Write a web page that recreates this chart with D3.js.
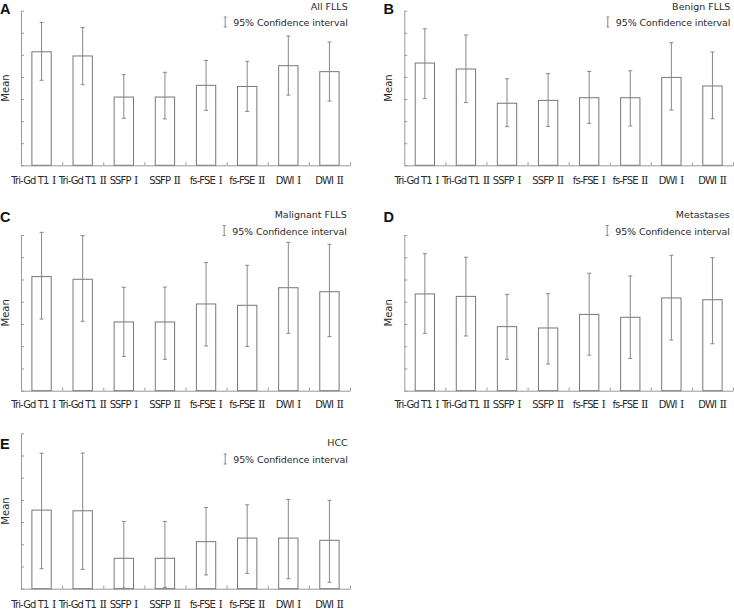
<!DOCTYPE html>
<html>
<head>
<meta charset="utf-8">
<script src="https://cdn.jsdelivr.net/npm/d3@7/dist/d3.min.js"></script>
<style>
  html, body { margin: 0; padding: 0; background: #fff; }
  svg { display: block; }
</style>
</head>
<body>
<svg id="chart" width="734" height="610"></svg>
<script>
// ---------- DATA ----------
const categories = ["Tri-Gd T1 Ⅰ", "Tri-Gd T1 Ⅱ", "SSFP Ⅰ", "SSFP Ⅱ", "fs-FSE Ⅰ", "fs-FSE Ⅱ", "DWI Ⅰ", "DWI Ⅱ"];
const yTicks = [0, 1, 2, 3, 4, 5, 6, 7];
const legendLabel = "95% Confidence interval";
const axisTitle = "Mean";

const titleA = "All FLLS";
const meanA = [5.14, 4.95, 3.09, 3.09, 3.62, 3.57, 4.51, 4.24];
const hiA   = [6.47, 6.24, 4.10, 4.21, 4.75, 4.71, 5.85, 5.58];
const loA   = [3.85, 3.65, 2.13, 2.10, 2.49, 2.44, 3.18, 2.91];

const titleB = "Benign FLLS";
const meanB = [4.63, 4.36, 2.81, 2.94, 3.06, 3.06, 3.98, 3.59];
const hiB   = [6.18, 5.90, 3.92, 4.15, 4.25, 4.28, 5.55, 5.13];
const loB   = [3.02, 2.84, 1.75, 1.76, 1.90, 1.78, 2.50, 2.11];

const titleC = "Malignant FLLS";
const meanC = [5.13, 5.01, 3.09, 3.09, 3.90, 3.84, 4.63, 4.45];
const hiC   = [7.12, 6.97, 4.65, 4.66, 5.76, 5.64, 6.67, 6.58];
const loC   = [3.22, 3.12, 1.54, 1.41, 2.01, 1.99, 2.58, 2.43];

const titleD = "Metastases";
const meanD = [4.35, 4.24, 2.88, 2.82, 3.43, 3.30, 4.17, 4.09];
const hiD   = [6.16, 6.00, 4.33, 4.36, 5.28, 5.16, 6.09, 5.98];
const loD   = [2.58, 2.46, 1.41, 1.20, 1.60, 1.45, 2.28, 2.11];

const titleE = "HCC";
const meanE = [3.54, 3.51, 1.37, 1.37, 2.12, 2.28, 2.28, 2.18];
const hiE   = [6.10, 6.11, 3.03, 3.03, 3.66, 3.78, 4.02, 3.98];
const loE   = [0.90, 0.87, 0.03, 0.06, 0.62, 0.69, 0.45, 0.29];

// ---------- LAYOUT ----------
const FONT = "'DejaVu Sans', Verdana, sans-serif";
const SERIF = "'DejaVu Serif', 'Liberation Serif', serif";
const TEXT = "#2a2a2a";
const svg = d3.select("#chart");

const panels = [
  {letter: "A", title: titleA, mean: meanA, hi: hiA, lo: loA,
   x0: 21, x1: 350, top: 10.7, base: 165.3, labelY: 183.5, letterX: 0, letterY: 13.5,
   titleY: 9.5, ciY: 26, right: 347.7, meanX: 5},
  {letter: "B", title: titleB, mean: meanB, hi: hiB, lo: loB,
   x0: 404.3, x1: 733, top: 10.7, base: 165.3, labelY: 183.5, letterX: 383.5, letterY: 13.5,
   titleY: 9.5, ciY: 26, right: 730.3, meanX: 388.7},
  {letter: "C", title: titleC, mean: meanC, hi: hiC, lo: loC,
   x0: 21, x1: 350, top: 235, base: 390.7, labelY: 407.5, letterX: 0, letterY: 222,
   titleY: 218, ciY: 234.5, right: 346.7, meanX: 5},
  {letter: "D", title: titleD, mean: meanD, hi: hiD, lo: loD,
   x0: 404.3, x1: 733, top: 235, base: 390.7, labelY: 407.5, letterX: 383.5, letterY: 222,
   titleY: 218, ciY: 234.5, right: 729.7, meanX: 388.7},
  {letter: "E", title: titleE, mean: meanE, hi: hiE, lo: loE,
   x0: 21, x1: 350, top: 433.3, base: 588.7, labelY: 607.5, letterX: 0, letterY: 448.5,
   titleY: 446, ciY: 463, right: 347.7, meanX: 5}
];

function drawPanel(p) {
  const g = svg.append("g");
  const n = categories.length;
  const pad = 0.53;
  const x = d3.scaleBand().domain(categories).range([p.x0, p.x1])
    .paddingInner(pad).paddingOuter(pad / 2);
  const xb = d3.scaleLinear().domain([0, n]).range([p.x0, p.x1]);
  const y = d3.scaleLinear().domain([0, 7]).range([p.base, p.top]);

  // y axis (ticks pointing inward)
  const ya = g.append("g").attr("transform", `translate(${p.x0},0)`)
    .call(d3.axisLeft(y).tickValues(yTicks).tickSizeInner(-3).tickSizeOuter(0).tickFormat(""));
  ya.select(".domain").attr("stroke", "#999");
  ya.selectAll(".tick line").attr("stroke", "#999");

  // x axis (boundary ticks pointing up)
  const xa = g.append("g").attr("transform", `translate(0,${p.base})`)
    .call(d3.axisBottom(xb).tickValues(d3.range(1, n + 1)).tickSizeInner(-3).tickSizeOuter(0).tickFormat(""));
  xa.select(".domain").attr("stroke", "#999");
  xa.selectAll(".tick line").attr("stroke", "#999");

  // bars
  g.selectAll("rect.bar").data(categories).join("rect")
    .attr("class", "bar")
    .attr("x", d => x(d))
    .attr("y", (d, i) => y(p.mean[i]))
    .attr("width", x.bandwidth())
    .attr("height", (d, i) => y(0) - y(p.mean[i]))
    .attr("fill", "#fff")
    .attr("stroke", "#777")
    .attr("stroke-width", 1);

  // error bars
  const cap = 2;
  const eb = g.selectAll("g.err").data(categories).join("g").attr("class", "err")
    .attr("stroke", "#888").attr("stroke-width", 1);
  eb.append("line")
    .attr("x1", d => x(d) + x.bandwidth() / 2).attr("x2", d => x(d) + x.bandwidth() / 2)
    .attr("y1", (d, i) => y(p.lo[i])).attr("y2", (d, i) => y(p.hi[i]));
  eb.append("line")
    .attr("x1", d => x(d) + x.bandwidth() / 2 - cap).attr("x2", d => x(d) + x.bandwidth() / 2 + cap)
    .attr("y1", (d, i) => y(p.hi[i])).attr("y2", (d, i) => y(p.hi[i]));
  eb.append("line")
    .attr("x1", d => x(d) + x.bandwidth() / 2 - cap).attr("x2", d => x(d) + x.bandwidth() / 2 + cap)
    .attr("y1", (d, i) => y(p.lo[i])).attr("y2", (d, i) => y(p.lo[i]));

  // category labels
  const lab = g.selectAll("text.cat").data(categories).join("text")
    .attr("class", "cat")
    .attr("x", (d, i) => x(d) + x.bandwidth() / 2 + (i === 0 ? -8 : 0))
    .attr("y", p.labelY)
    .attr("text-anchor", "middle")
    .attr("font-family", FONT)
    .attr("font-size", "10px")
    .attr("fill", TEXT);
  lab.each(function(d) {
    const k = d.lastIndexOf(" ");
    const t = d3.select(this);
    t.append("tspan").attr("letter-spacing", "-0.9px").text(d.slice(0, k));
    t.append("tspan").attr("font-family", SERIF).attr("dx", 3.5)
      .attr("font-size", "11px").attr("letter-spacing", "-0.4px").text(d.slice(k + 1));
  });

  // y title
  g.append("text")
    .attr("transform", `translate(${p.meanX + 3.7},${(p.top + p.base) / 2}) rotate(-90)`)
    .attr("text-anchor", "middle")
    .attr("font-family", FONT).attr("font-size", "10px").attr("fill", TEXT)
    .text(axisTitle);

  // panel letter
  g.append("text").attr("x", p.letterX).attr("y", p.letterY)
    .attr("font-family", "'Liberation Sans', Arial, sans-serif").attr("font-weight", "bold")
    .attr("font-size", "14.5px").attr("fill", "#111")
    .text(p.letter);

  // legend
  g.append("text").attr("x", p.right).attr("y", p.titleY).attr("text-anchor", "end")
    .attr("font-family", FONT).attr("font-size", "9.5px").attr("fill", TEXT).text(p.title);
  const ci = g.append("text").attr("x", p.right).attr("y", p.ciY).attr("text-anchor", "end")
    .attr("font-family", FONT).attr("font-size", "9.5px").attr("letter-spacing", "-0.1px")
    .attr("fill", TEXT).text(legendLabel);
  const w = ci.node().getComputedTextLength();
  const ix = p.right - w - 8;
  const ig = g.append("g").attr("stroke", "#888").attr("stroke-width", 1);
  ig.append("line").attr("x1", ix).attr("x2", ix).attr("y1", p.ciY - 9).attr("y2", p.ciY + 1);
  ig.append("line").attr("x1", ix - 1.5).attr("x2", ix + 1.5).attr("y1", p.ciY - 9).attr("y2", p.ciY - 9);
  ig.append("line").attr("x1", ix - 1.5).attr("x2", ix + 1.5).attr("y1", p.ciY + 1).attr("y2", p.ciY + 1);
}

panels.forEach(drawPanel);
</script>
</body>
</html>
